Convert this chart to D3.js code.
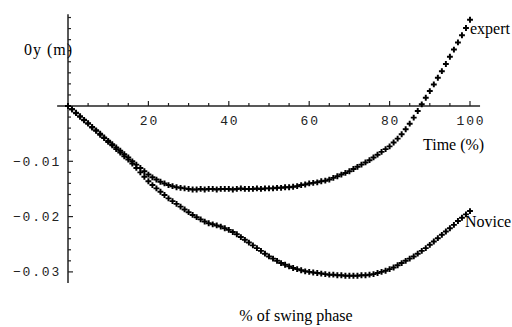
<!DOCTYPE html>
<html>
<head>
<meta charset="utf-8">
<script src="https://cdn.jsdelivr.net/npm/d3@7"></script>
<style>
  html, body { margin: 0; padding: 0; background: #fff; }
  svg { display: block; }
  .tick-label { font-family: "Liberation Mono", "DejaVu Sans Mono", monospace; font-size: 13px; letter-spacing: 1.8px; fill: #222; }
  .serif { font-family: "Liberation Serif", "Times New Roman", serif; font-size: 16px; fill: #000; }
</style>
</head>
<body>
<script>
// ---- data (values in metres, x in % of swing phase) ----
const percent = d3.range(0, 101);
const expertMM = [
  0.0, -0.6, -1.2, -1.9, -2.5, -3.1, -3.8, -4.4, -5.0, -5.7,
  -6.3, -6.9, -7.5, -8.1, -8.7, -9.3, -10.0, -10.6, -11.2, -11.8,
  -12.4, -12.9, -13.3, -13.7, -14.0, -14.3, -14.5, -14.7, -14.8, -14.9,
  -15.0, -15.1, -15.1, -15.0, -15.1, -15.0, -15.0, -15.1, -15.0, -15.0,
  -15.0, -15.1, -15.0, -14.9, -15.0, -15.0, -15.0, -14.9, -15.0, -14.9,
  -14.9, -14.9, -14.8, -14.8, -14.7, -14.7, -14.6, -14.5, -14.3, -14.2,
  -14.0, -13.9, -13.8, -13.6, -13.5, -13.3, -13.0, -12.7, -12.4, -12.1,
  -11.8, -11.4, -11.0, -10.6, -10.2, -9.8, -9.3, -8.8, -8.3, -7.8,
  -7.3, -6.6, -5.9, -5.1, -4.2, -3.2, -2.1, -0.9, 0.3, 1.5,
  2.7, 3.9, 5.1, 6.3, 7.6, 8.9, 10.2, 11.5, 12.8, 14.1,
  15.6
];
const noviceMM = [
  0.0, -0.6, -1.3, -1.9, -2.6, -3.2, -3.9, -4.5, -5.2, -5.8,
  -6.5, -7.1, -7.8, -8.4, -9.1, -9.7, -10.4, -11.2, -12.0, -12.8,
  -13.6, -14.3, -14.9, -15.5, -16.1, -16.7, -17.2, -17.7, -18.2, -18.7,
  -19.2, -19.7, -20.1, -20.5, -20.9, -21.2, -21.4, -21.6, -21.8, -22.1,
  -22.4, -22.8, -23.2, -23.7, -24.2, -24.7, -25.2, -25.7, -26.2, -26.7,
  -27.2, -27.6, -28.0, -28.4, -28.7, -29.0, -29.3, -29.5, -29.7, -29.9,
  -30.0, -30.1, -30.2, -30.3, -30.4, -30.5, -30.5, -30.6, -30.6, -30.7,
  -30.7, -30.7, -30.7, -30.6, -30.6, -30.5, -30.4, -30.2, -30.0, -29.8,
  -29.5, -29.2, -28.8, -28.4, -28.0, -27.6, -27.2, -26.7, -26.2, -25.7,
  -25.1, -24.5, -23.9, -23.3, -22.7, -22.1, -21.5, -20.8, -20.2, -19.6,
  -19.0
];
const expert = expertMM.map(v => v / 1000);
const novice = noviceMM.map(v => v / 1000);
const xMajorTicks = [20, 40, 60, 80, 100];
const xMinorTicks = [5, 10, 15, 25, 30, 35, 45, 50, 55, 65, 70, 75, 85, 90, 95];
const yMajorTicks = [-0.01, -0.02, -0.03];
const yMinorTicks = [0.016, 0.014, 0.012, 0.010, 0.008, 0.006, 0.004, 0.002,
  -0.002, -0.004, -0.006, -0.008, -0.012, -0.014, -0.016, -0.018,
  -0.022, -0.024, -0.026, -0.028];
const yTickLabels = ["\u22120.01", "\u22120.02", "\u22120.03"];
const seriesNames = ["expert", "Novice"];

// ---- drawing ----
const W = 512, H = 327;
const svg = d3.select("body").append("svg").attr("width", W).attr("height", H);

const x = d3.scaleLinear().domain([0, 100]).range([68, 470]);
const y = d3.scaleLinear().domain([0, -0.01]).range([106, 161.3]);

const axisColor = "#222";
svg.append("line")
  .attr("x1", x(-2.7)).attr("x2", x(102.5))
  .attr("y1", y(0)).attr("y2", y(0))
  .attr("stroke", axisColor).attr("stroke-width", 1.5);
svg.append("line")
  .attr("x1", x(0)).attr("x2", x(0))
  .attr("y1", y(0.0166)).attr("y2", y(-0.032))
  .attr("stroke", axisColor).attr("stroke-width", 1.5);

svg.selectAll(".xmaj").data(xMajorTicks).enter().append("line")
  .attr("x1", d => x(d)).attr("x2", d => x(d))
  .attr("y1", y(0)).attr("y2", y(0) - 5)
  .attr("stroke", axisColor).attr("stroke-width", 1.2);
svg.selectAll(".xmin").data(xMinorTicks).enter().append("line")
  .attr("x1", d => x(d)).attr("x2", d => x(d))
  .attr("y1", y(0)).attr("y2", y(0) - 3)
  .attr("stroke", axisColor).attr("stroke-width", 1.2);
svg.selectAll(".xlab").data(xMajorTicks).enter().append("text")
  .attr("class", "tick-label")
  .attr("x", d => x(d) + 1)
  .attr("y", 125)
  .attr("text-anchor", "middle")
  .text(d => d);

svg.selectAll(".ymaj").data(yMajorTicks).enter().append("line")
  .attr("x1", x(0)).attr("x2", x(0) + 5)
  .attr("y1", d => y(d)).attr("y2", d => y(d))
  .attr("stroke", axisColor).attr("stroke-width", 1.2);
svg.selectAll(".ymin").data(yMinorTicks).enter().append("line")
  .attr("x1", x(0)).attr("x2", x(0) + 3)
  .attr("y1", d => y(d)).attr("y2", d => y(d))
  .attr("stroke", axisColor).attr("stroke-width", 1.2);
svg.selectAll(".ylab").data(yMajorTicks).enter().append("text")
  .attr("class", "tick-label")
  .attr("x", 61)
  .attr("y", d => y(d) + 4.5)
  .attr("text-anchor", "end")
  .text((d, i) => yTickLabels[i]);

const marker = d3.symbol().type(d3.symbolCross).size(19);
function drawSeries(vals) {
  svg.append("g").selectAll("path").data(vals).enter().append("path")
    .attr("d", marker)
    .attr("transform", (d, i) => `translate(${x(percent[i])},${y(d)})`)
    .attr("fill", "#000");
}
drawSeries(expert);
drawSeries(novice);

svg.append("text").attr("class", "serif").attr("x", 470).attr("y", 34).text(seriesNames[0]);
svg.append("text").attr("class", "serif").attr("x", 465).attr("y", 227).text(seriesNames[1]);
svg.append("text").attr("class", "serif").attr("x", 423).attr("y", 150).text("Time (%)");
svg.append("text").attr("class", "serif").attr("x", 296).attr("y", 321).attr("text-anchor", "middle").text("% of swing phase");
svg.append("text").attr("class", "serif").attr("x", 24).attr("y", 55).attr("textLength", 48).text("0y (m)");
</script>
</body>
</html>
